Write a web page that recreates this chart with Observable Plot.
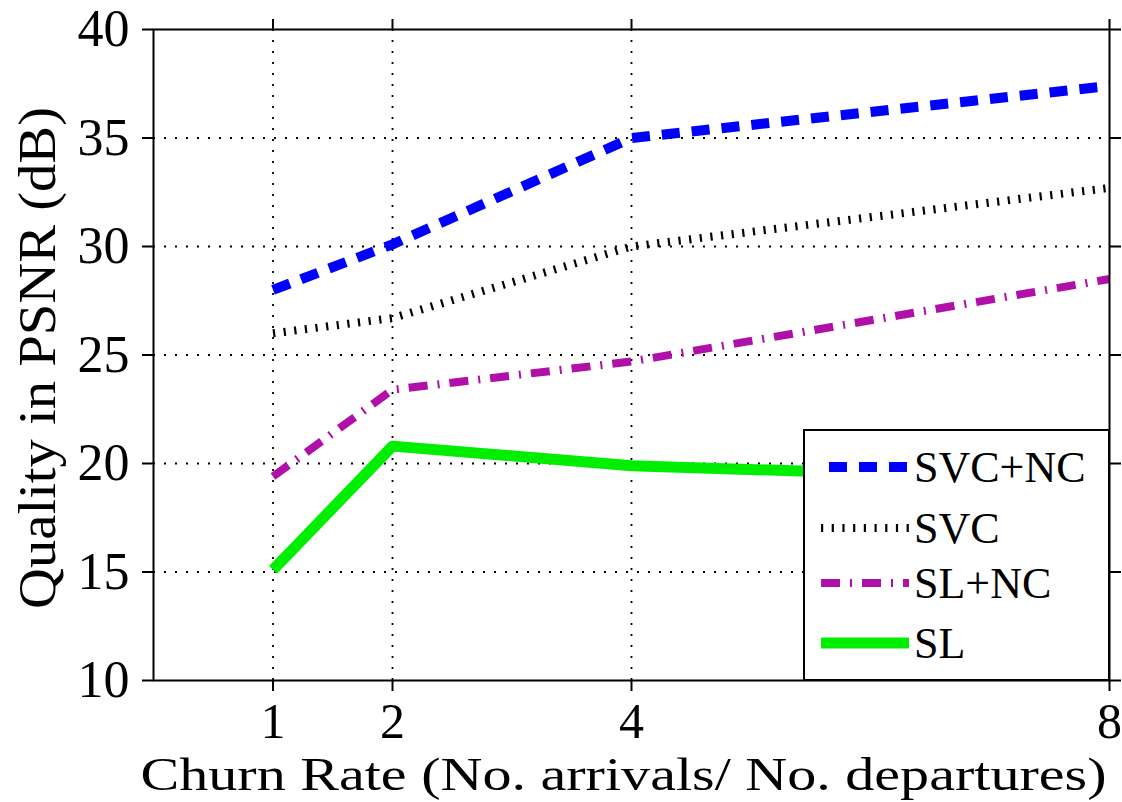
<!DOCTYPE html>
<html><head><meta charset="utf-8">
<script src="https://cdn.jsdelivr.net/npm/d3@7"></script>
<script src="https://cdn.jsdelivr.net/npm/@observablehq/plot@0.6"></script>
<style>body{margin:0;background:#fff}</style>
</head><body><div id="chart"></div>
<script>
const churnRate = [1, 2, 4, 8];
const xTicks = [1, 2, 4, 8];
const yTicks = [10, 15, 20, 25, 30, 35, 40];
const seriesNames = ["SVC+NC", "SVC", "SL+NC", "SL"];
const svcNc = [28.0, 30.1, 35.0, 37.4];
const svc = [26.0, 26.7, 30.0, 32.7];
const slNc = [19.4, 23.4, 24.7, 28.5];
const sl = [15.1, 20.8, 19.9, 19.2];
const seriesValues = [svcNc, svc, slNc, sl];
const xLabel = "Churn Rate (No. arrivals/ No. departures)";
const yLabel = "Quality in PSNR (dB)";

const styles = {
  "SVC+NC": {stroke: "#0000ff", strokeWidth: 10, strokeDasharray: "18 12"},
  "SVC": {stroke: "#000000", strokeWidth: 8, strokeDasharray: "2.2 8.5"},
  "SL+NC": {stroke: "#b010a8", strokeWidth: 8, strokeDasharray: "19 10 2 10"},
  "SL": {stroke: "#00ee00", strokeWidth: 11, strokeDasharray: null}
};

const rows = seriesNames.flatMap((s, i) => churnRate.map((x, j) => ({series: s, x, y: seriesValues[i][j]})));
const FONT = "'Liberation Serif', 'DejaVu Serif', serif";

function legendMark(index, scales, values, dims) {
  const right = dims.width - dims.marginRight;
  const bottom = dims.height - dims.marginBottom;
  const w = 305, h = 250;
  const x0 = right - w, y0 = bottom - h;
  const g = d3.create("svg:g");
  g.append("rect").attr("x", x0).attr("y", y0).attr("width", w).attr("height", h)
    .attr("fill", "white").attr("stroke", "black").attr("stroke-width", 2);
  const rowY = [37, 98, 153, 213];
  seriesNames.forEach((s, i) => {
    const st = styles[s];
    const y = y0 + rowY[i];
    const xs = s === "SVC+NC" ? x0 + 25 : x0 + 17;
    g.append("line").attr("x1", xs).attr("x2", x0 + 105).attr("y1", y).attr("y2", y)
      .attr("stroke", st.stroke).attr("stroke-width", st.strokeWidth)
      .attr("stroke-dasharray", st.strokeDasharray).attr("stroke-linecap", "butt");
    g.append("text").attr("x", x0 + 110).attr("y", y).attr("dy", "0.35em")
      .attr("text-anchor", "start")
      .attr("font-size", 44).attr("font-family", FONT).attr("fill", "black").text(s);
  });
  return g.node();
}

const lineMarks = seriesNames.map(s => Plot.line(rows.filter(d => d.series === s), {
  x: "x", y: "y", ...styles[s], strokeLinecap: "butt", strokeLinejoin: "round"
}));

const plot = Plot.plot({
  width: 1122, height: 802,
  marginLeft: 153, marginRight: 13, marginTop: 29, marginBottom: 122,
  style: {fontFamily: FONT, background: "white", color: "black"},
  x: {domain: [0, 8]},
  y: {domain: [10, 40]},
  marks: [
    Plot.gridY([15, 20, 25, 30, 35], {stroke: "#000", strokeOpacity: 1, strokeWidth: 1.8, strokeDasharray: "2 9"}),
    Plot.gridX([1, 2, 4], {stroke: "#000", strokeOpacity: 1, strokeWidth: 1.8, strokeDasharray: "2 9"}),
    ...lineMarks,
    legendMark,
    Plot.frame({stroke: "#000", strokeWidth: 2}),
    Plot.axisY({ticks: yTicks, tickSize: 11, tickPadding: 13, fontSize: 52, strokeWidth: 2, label: null}),
    Plot.axisY({anchor: "right", ticks: yTicks, tickSize: 11, tickFormat: () => "", strokeWidth: 2, label: null}),
    Plot.axisX({ticks: xTicks, tickSize: 11, tickPadding: 10.5, fontSize: 50, strokeWidth: 2, label: null}),
    Plot.axisX({anchor: "top", ticks: xTicks, tickSize: 11, tickFormat: () => "", strokeWidth: 2, label: null}),
    Plot.text([yLabel], {text: d => d, frameAnchor: "left", dx: -115, dy: 3, rotate: -90, fontSize: 52, textAnchor: "middle", lineAnchor: "middle"}),
    Plot.text([xLabel], {text: d => d, frameAnchor: "bottom", dy: 95, dx: -8, fontSize: 46, textAnchor: "middle", lineAnchor: "middle"})
  ]
});
const sel = d3.select(plot);
sel.selectAll("text").filter(function() { return this.textContent === xLabel; })
  .attr("textLength", 966).attr("lengthAdjust", "spacingAndGlyphs");
sel.selectAll("text").filter(function() { return this.textContent === yLabel; })
  .attr("textLength", 502).attr("lengthAdjust", "spacingAndGlyphs");
document.getElementById("chart").appendChild(plot);
</script>
</body></html>
